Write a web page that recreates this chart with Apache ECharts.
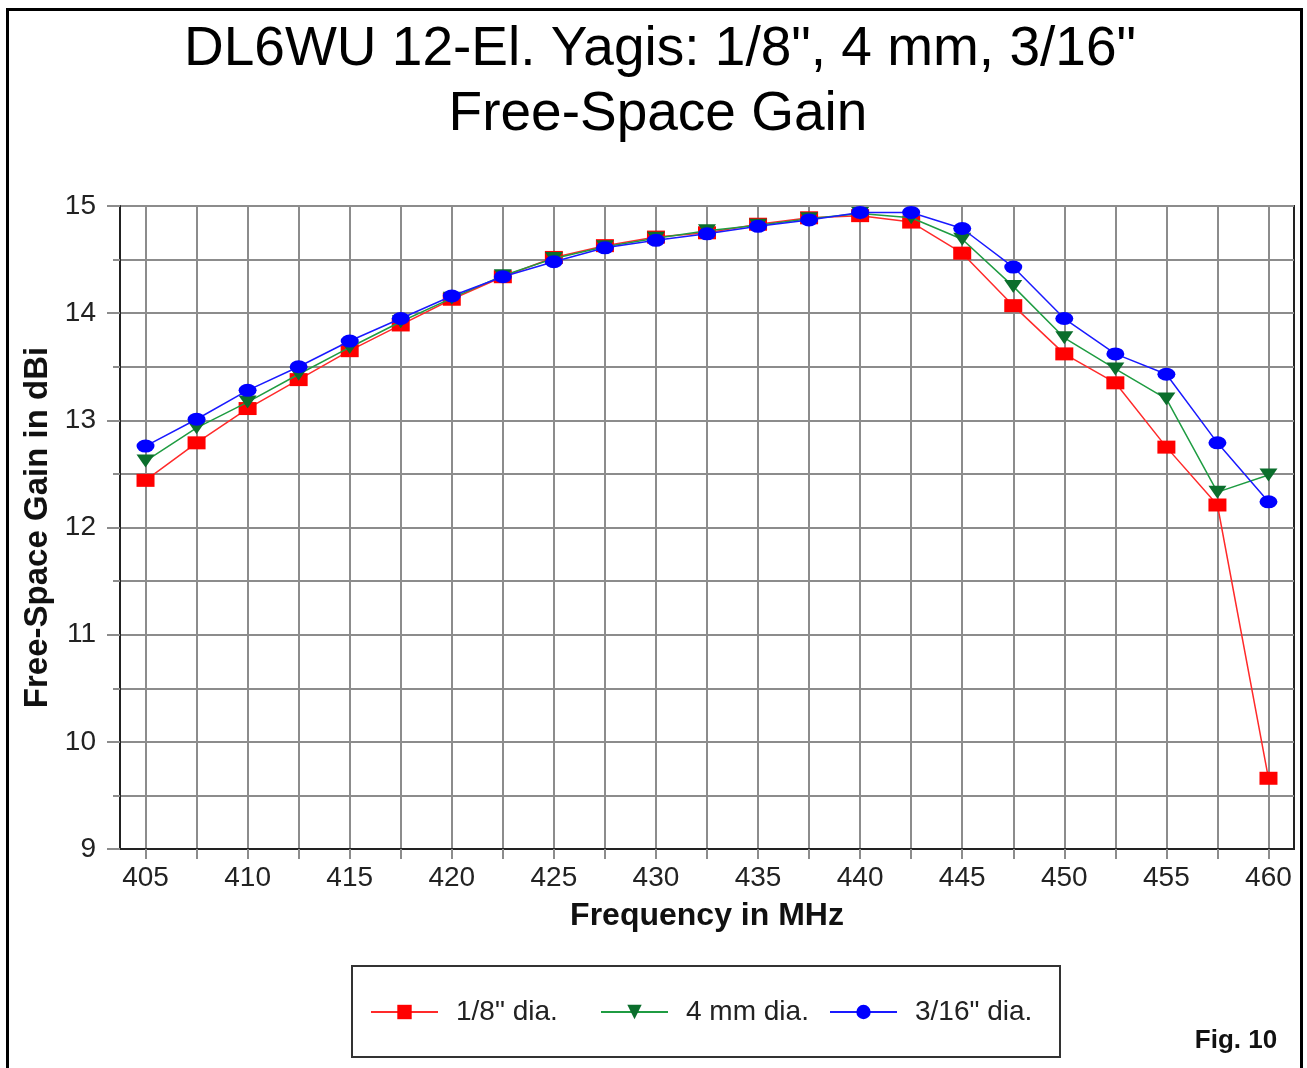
<!DOCTYPE html>
<html>
<head>
<meta charset="utf-8">
<title>DL6WU 12-El. Yagis: Free-Space Gain</title>
<script src="https://cdn.jsdelivr.net/npm/echarts@6/dist/echarts.min.js"></script>
<style>
  html, body { margin: 0; padding: 0; background: #ffffff; }
  #chart { width: 1307px; height: 1068px; }
</style>
</head>
<body>
<div id="chart"></div>
<script>
// Frequency points (MHz), one every 2.5 MHz
const freqs = [405, 407.5, 410, 412.5, 415, 417.5, 420, 422.5, 425, 427.5, 430, 432.5,
               435, 437.5, 440, 442.5, 445, 447.5, 450, 452.5, 455, 457.5, 460];
// Labelled frequency ticks
const freqTickLabels = [405, 410, 415, 420, 425, 430, 435, 440, 445, 450, 455, 460];
// Labelled gain ticks (dBi)
const gainTickLabels = [9, 10, 11, 12, 13, 14, 15];

const seriesNames = ['1/8" dia.', '4 mm dia.', '3/16" dia.'];

// Free-space gain (dBi) for each element diameter
const gainEighthInch = [12.44, 12.79, 13.11, 13.38, 13.65, 13.89, 14.13, 14.34, 14.52, 14.63, 14.71, 14.75,
                        14.83, 14.89, 14.91, 14.85, 14.56, 14.07, 13.62, 13.35, 12.75, 12.21, 9.66];
const gain4mm = [12.62, 12.93, 13.17, 13.43, 13.68, 13.92, 14.14, 14.35, 14.51, 14.62, 14.70, 14.77,
                 14.82, 14.88, 14.93, 14.89, 14.69, 14.25, 13.77, 13.48, 13.20, 12.33, 12.49];
const gainThreeSixteenth = [12.76, 13.01, 13.28, 13.50, 13.74, 13.95, 14.16, 14.34, 14.48, 14.61, 14.68, 14.74,
                            14.81, 14.87, 14.94, 14.94, 14.79, 14.43, 13.95, 13.62, 13.43, 12.79, 12.24];

const FONT = '"Liberation Sans", Arial, Helvetica, sans-serif';
const GRID_COLOR = '#8c8c8c';
const AXIS_COLOR = '#222222';

function pairs(values) {
  return freqs.map((f, i) => [f, values[i]]);
}

// One legend entry per slot inside the framed key box
const legendSlots = [370, 600, 829];
function legendEntry(name, left) {
  return {
    data: [name],
    left: left,
    top: 998,
    padding: 0,
    itemWidth: 67,
    itemHeight: 18,
    selectedMode: false,
    textStyle: { fontSize: 28, color: '#222', fontFamily: FONT, padding: [0, 0, 0, 13] }
  };
}

const chart = echarts.init(document.getElementById('chart'), null, { renderer: 'canvas' });

const option = {
  animation: false,
  backgroundColor: '#ffffff',
  textStyle: { fontFamily: FONT },
  grid: {
    left: 120, right: 13, top: 206, bottom: 219,
    show: true, borderColor: AXIS_COLOR, borderWidth: 2, backgroundColor: '#ffffff'
  },
  xAxis: {
    type: 'value',
    min: 403.75,
    max: 461.25,
    name: 'Frequency in MHz',
    nameLocation: 'middle',
    nameGap: 51,
    nameTextStyle: { fontSize: 32, fontWeight: 'bold', color: '#111', fontFamily: FONT },
    axisLine: { show: true, onZero: false, lineStyle: { color: AXIS_COLOR, width: 2 } },
    axisTick: { show: true, customValues: freqs, length: 10, lineStyle: { color: GRID_COLOR, width: 2 } },
    axisLabel: { customValues: freqTickLabels, fontSize: 28, color: '#222', margin: 15, fontFamily: FONT },
    splitLine: { show: true, customValues: freqs, lineStyle: { color: GRID_COLOR, width: 2 } }
  },
  yAxis: {
    type: 'value',
    min: 9,
    max: 15,
    interval: 1,
    name: 'Free-Space Gain in dBi',
    nameLocation: 'middle',
    nameGap: 65,
    nameRotate: 90,
    nameTextStyle: { fontSize: 33, fontWeight: 'bold', color: '#111', fontFamily: FONT },
    axisLine: { show: true, onZero: false, lineStyle: { color: AXIS_COLOR, width: 2 } },
    axisTick: { show: true, length: 13, lineStyle: { color: GRID_COLOR, width: 2 } },
    minorTick: { show: true, splitNumber: 2, length: 7, lineStyle: { color: GRID_COLOR, width: 2 } },
    axisLabel: { customValues: gainTickLabels, fontSize: 28, color: '#222', margin: 24, fontFamily: FONT },
    splitLine: { show: true, lineStyle: { color: GRID_COLOR, width: 2 } },
    minorSplitLine: { show: true, lineStyle: { color: GRID_COLOR, width: 2 } }
  },
  legend: seriesNames.map((name, i) => legendEntry(name, legendSlots[i])),
  series: [
    {
      name: seriesNames[0],
      type: 'line',
      data: pairs(gainEighthInch),
      symbol: 'rect',
      symbolSize: [18, 13],
      lineStyle: { color: '#ff2a2a', width: 1.5 },
      itemStyle: { color: '#ff0000' },
      emphasis: { disabled: true },
      z: 3
    },
    {
      name: seriesNames[1],
      type: 'line',
      data: pairs(gain4mm),
      symbol: 'triangle',
      symbolRotate: 180,
      symbolSize: [18, 13],
      lineStyle: { color: '#1f9c42', width: 1.5 },
      itemStyle: { color: '#0b6e2c' },
      emphasis: { disabled: true },
      z: 4
    },
    {
      name: seriesNames[2],
      type: 'line',
      data: pairs(gainThreeSixteenth),
      symbol: 'circle',
      symbolSize: [18, 13],
      lineStyle: { color: '#1a1aff', width: 1.5 },
      itemStyle: { color: '#0000ff' },
      emphasis: { disabled: true },
      z: 5
    }
  ],
  graphic: [
    {
      type: 'rect',
      shape: { x: 7.5, y: 9.5, width: 1294, height: 1090 },
      style: { fill: 'none', stroke: '#000', lineWidth: 3 },
      silent: true
    },
    {
      // frame around the key
      type: 'rect',
      shape: { x: 352, y: 966, width: 708, height: 91 },
      style: { fill: 'none', stroke: '#333', lineWidth: 2 },
      silent: true
    },
    {
      type: 'text',
      x: 660, y: 50,
      style: {
        text: 'DL6WU 12-El. Yagis: 1/8", 4 mm, 3/16"',
        font: '55px ' + FONT, fill: '#000', align: 'center', verticalAlign: 'middle'
      }
    },
    {
      type: 'text',
      x: 658, y: 115,
      style: {
        text: 'Free-Space Gain',
        font: '55px ' + FONT, fill: '#000', align: 'center', verticalAlign: 'middle'
      }
    },
    {
      type: 'text',
      x: 1236, y: 1041,
      style: {
        text: 'Fig. 10',
        font: 'bold 26px ' + FONT, fill: '#111', align: 'center', verticalAlign: 'middle'
      }
    }
  ]
};

chart.setOption(option);
</script>
</body>
</html>
